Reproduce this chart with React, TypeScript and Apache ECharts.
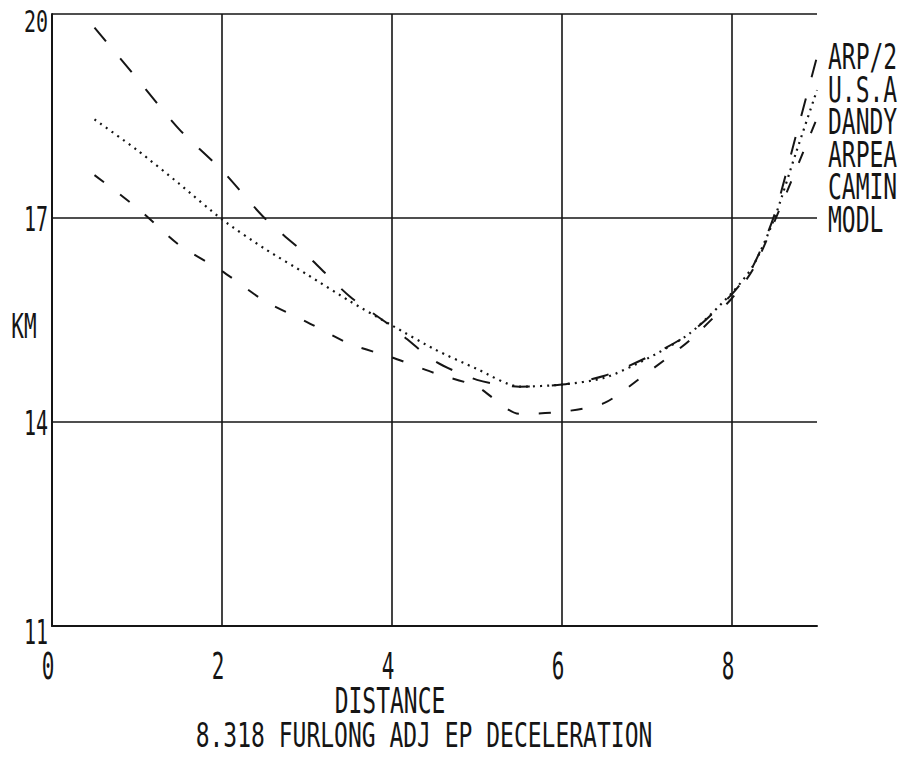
import React, { useEffect, useRef } from "react";
import * as echarts from "echarts";

// ---- data ----
const DISTANCE = [0.5, 1, 1.5, 2, 2.5, 3, 3.5, 4, 4.5, 5, 5.5, 6, 6.5, 7, 7.5, 8, 8.25, 8.5, 8.75, 9];
const ARP2 = [19.8, 19.05, 18.3, 17.7, 17.0, 16.45, 15.85, 15.4, 14.9, 14.62, 14.52, 14.55, 14.68, 14.95, 15.3, 15.88, 16.3, 17.05, 18.2, 19.37];
const USA = [18.45, 18.0, 17.5, 16.98, 16.55, 16.17, 15.78, 15.42, 15.07, 14.78, 14.52, 14.55, 14.65, 14.93, 15.3, 15.9, 16.3, 17.0, 17.95, 18.88];
const DANDY = [17.63, 17.15, 16.6, 16.22, 15.78, 15.47, 15.15, 14.95, 14.72, 14.52, 14.12, 14.15, 14.28, 14.72, 15.2, 15.82, 16.25, 16.95, 17.7, 18.47];

const LEGEND_NAMES = ["ARP/2", "U.S.A", "DANDY", "ARPEA", "CAMIN", "MODL"];
const X_TICKS = [0, 2, 4, 6, 8];
const Y_TICKS = [11, 14, 17, 20];
const X_MIN = 0;
const X_MAX = 9;
const Y_MIN = 11;
const Y_MAX = 20;
const X_NAME = "DISTANCE";
const Y_NAME = "KM";
const SUBTITLE = "8.318 FURLONG ADJ EP DECELERATION";

const INK = "#151515";
const FONT = "'DejaVu Sans Mono', 'Liberation Mono', monospace";

function txt(text: string, x: number, y: number, align: string, size: number, sy: number) {
  return {
    type: "text",
    x,
    y,
    scaleY: sy,
    silent: true,
    style: {
      text,
      fill: INK,
      fontSize: size,
      fontFamily: FONT,
      textAlign: align,
      textVerticalAlign: "middle",
      align,
      verticalAlign: "middle",
    },
  };
}

function pts(ys: number[]) {
  return DISTANCE.map((x, i) => [x, ys[i]]);
}

export default function App() {
  const ref = useRef<HTMLDivElement>(null);

  useEffect(() => {
    if (!ref.current) return;
    const chart = echarts.init(ref.current, null, { renderer: "svg" });

    const gridLines = [
      ...X_TICKS.filter((v) => v > X_MIN).map((v) => ({ xAxis: v })),
      ...Y_TICKS.filter((v) => v > Y_MIN).map((v) => ({ yAxis: v })),
    ];

    const option: any = {
      animation: false,
      backgroundColor: "#ffffff",
      grid: { left: 52, right: 82, top: 14, bottom: 131, containLabel: false },
      xAxis: {
        type: "value",
        min: X_MIN,
        max: X_MAX,
        axisLine: { show: true, onZero: false, lineStyle: { color: INK, width: 2 } },
        axisTick: { show: false },
        axisLabel: { show: false },
        splitLine: { show: false },
      },
      yAxis: {
        type: "value",
        min: Y_MIN,
        max: Y_MAX,
        axisLine: { show: true, onZero: false, lineStyle: { color: INK, width: 2 } },
        axisTick: { show: false },
        axisLabel: { show: false },
        splitLine: { show: false },
      },
      series: [
        {
          name: LEGEND_NAMES[0],
          type: "line",
          data: pts(ARP2),
          smooth: 0.25,
          showSymbol: false,
          symbol: "none",
          lineStyle: { color: INK, width: 2, type: [18, 22] },
          markLine: {
            silent: true,
            symbol: "none",
            label: { show: false },
            lineStyle: { color: INK, width: 1.6, type: "solid" },
            data: gridLines,
          },
        },
        {
          name: LEGEND_NAMES[1],
          type: "line",
          data: pts(USA),
          smooth: 0.25,
          showSymbol: false,
          symbol: "none",
          lineStyle: { color: INK, width: 2.2, type: [2, 5] },
        },
        {
          name: LEGEND_NAMES[2],
          type: "line",
          data: pts(DANDY),
          smooth: 0.25,
          showSymbol: false,
          symbol: "none",
          lineStyle: { color: INK, width: 2, type: [12, 20] },
        },
      ],
    };
    chart.setOption(option);

    const els: any[] = [];
    const yBottom = chart.convertToPixel({ yAxisIndex: 0 }, Y_MIN) as number;
    const xLeft = chart.convertToPixel({ xAxisIndex: 0 }, X_MIN) as number;
    X_TICKS.forEach((v) => {
      const px = chart.convertToPixel({ xAxisIndex: 0 }, v) as number;
      els.push(txt(String(v), px - 4, yBottom + 40, "center", 21, 1.8));
    });
    Y_TICKS.forEach((v) => {
      const py = chart.convertToPixel({ yAxisIndex: 0 }, v) as number;
      const cy = v === Y_MIN ? py + 6 : Math.max(py + 1, 21);
      els.push(txt(String(v), xLeft - 4, cy, "right", 20, v === Y_MAX ? 1.55 : 1.7));
    });
    const yMid = chart.convertToPixel({ yAxisIndex: 0 }, 15.4) as number;
    els.push(txt(Y_NAME, xLeft - 28, yMid, "center", 21, 1.6));
    els.push(txt(X_NAME, 390, 701, "center", 23, 1.55));
    els.push(txt(SUBTITLE, 424, 735, "center", 23, 1.45));
    LEGEND_NAMES.forEach((n, i) => {
      els.push(txt(n, 828, 57 + i * 32.5, "left", 23, 1.55));
    });
    chart.setOption({ graphic: { elements: els } });

    return () => chart.dispose();
  }, []);

  return (
    <div
      ref={ref}
      style={{ position: "fixed", left: 0, top: 0, width: 899, height: 757, background: "#fff" }}
    />
  );
}
